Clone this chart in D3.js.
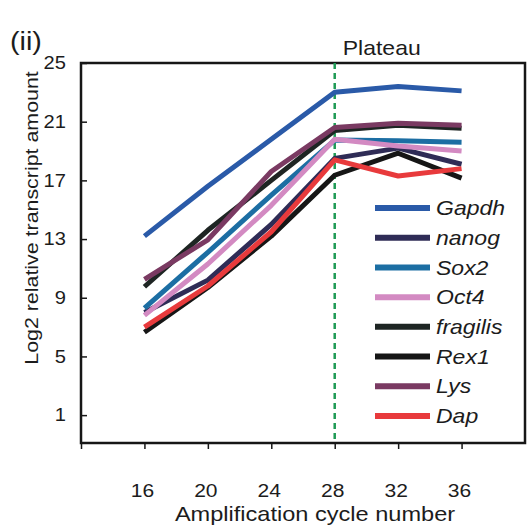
<!DOCTYPE html>
<html>
<head>
<meta charset="utf-8">
<script src="https://cdn.jsdelivr.net/npm/d3@7"></script>
<style>
  html, body { margin: 0; padding: 0; background: #ffffff; }
  svg { display: block; }
  text { font-family: Arial, "Liberation Sans", sans-serif; fill: #1c1c1c; }
</style>
</head>
<body>
<svg id="chart" width="527" height="527"></svg>
<script>
// ---- data ----
const cycles = [16, 20, 24, 28, 32, 36];
const genes = ["Gapdh", "nanog", "Sox2", "Oct4", "fragilis", "Rex1", "Lys", "Dap"];
const gapdh    = [13.2, 16.6, 19.8, 23.0, 23.4, 23.1];
const nanog    = [8.0, 10.2, 14.0, 18.5, 19.2, 18.1];
const sox2     = [8.3, 12.1, 16.0, 19.75, 19.7, 19.6];
const oct4     = [7.8, 11.3, 15.3, 19.8, 19.35, 19.0];
const fragilis = [9.75, 13.6, 17.0, 20.4, 20.75, 20.55];
const rex1     = [6.65, 9.7, 13.2, 17.35, 18.85, 17.15];
const lys      = [10.25, 12.95, 17.6, 20.6, 20.9, 20.75];
const dap      = [7.0, 9.8, 13.5, 18.4, 17.3, 17.8];
const yTicks = [1, 5, 9, 13, 17, 21, 25];
const xTicks = [16, 20, 24, 28, 32, 36];
const plateauCycle = 28;

const seriesValues = [gapdh, nanog, sox2, oct4, fragilis, rex1, lys, dap];
const colors = ["#2a5aa8", "#2f2c56", "#1c6ea3", "#d38ac2", "#1e2523", "#161616", "#7a3a62", "#e83a3c"];

// ---- layout ----
const svg = d3.select("#chart");
const L = 81, R = 525, T = 63, B = 443;
const SX = 1.15; // horizontal stretch of the lettering
const x = d3.scaleLinear().domain([12, 40]).range([L, R]);
const y = d3.scaleLinear().domain([-0.9, 25]).range([B, T]);

function label(g, tx, ty, txt, size, anchor, rot, italic) {
  const t = g.append("text")
    .attr("transform", `translate(${tx},${ty})` + (rot ? ` rotate(${rot})` : "") + ` scale(${SX},1)`)
    .attr("dy", "0.36em").attr("text-anchor", anchor || "start")
    .attr("font-size", size).text(txt);
  if (italic) t.attr("font-style", "italic");
  return t;
}

// frame
svg.append("rect").attr("x", L).attr("y", T).attr("width", R - L).attr("height", B - T)
  .attr("fill", "none").attr("stroke", "#161616").attr("stroke-width", 2.5);

// y axis ticks (inward)
const yAxis = d3.axisLeft(y).tickValues(yTicks).tickSizeInner(-6).tickSizeOuter(0).tickFormat("");
const gy = svg.append("g").attr("transform", `translate(${L},0)`).call(yAxis);
gy.select(".domain").remove();
gy.selectAll(".tick line").attr("stroke", "#161616").attr("stroke-width", 1.5);
const gyl = svg.append("g");
yTicks.forEach(d => label(gyl, 66, y(d), String(d), 17.5, "end"));

// x axis ticks (outward)
const xAxis = d3.axisBottom(x).tickValues([12].concat(xTicks)).tickSizeInner(6).tickSizeOuter(0).tickFormat("");
const gx = svg.append("g").attr("transform", `translate(0,${B})`).call(xAxis);
gx.select(".domain").remove();
gx.selectAll(".tick line").attr("stroke", "#161616").attr("stroke-width", 1.5);
const gxl = svg.append("g");
xTicks.forEach(d => label(gxl, x(d) - 2, 490, String(d), 18.3, "middle"));

// axis titles
label(svg, 315, 514, "Amplification cycle number", 20.5, "middle");
label(svg, 31, 218, "Log2 relative transcript amount", 18.6, "middle", -90);
label(svg, 10, 41, "(ii)", 25, "start");

// plateau line + label
svg.append("line").attr("x1", x(plateauCycle)).attr("x2", x(plateauCycle))
  .attr("y1", T).attr("y2", B).attr("stroke", "#1f9a55").attr("stroke-width", 2.5)
  .attr("stroke-dasharray", "6,4");
label(svg, x(plateauCycle) + 8, 48, "Plateau", 20, "start");

// lines
const line = d3.line().x((d, i) => x(cycles[i])).y(d => y(d));
svg.append("g").selectAll("path").data(seriesValues).join("path")
  .attr("d", d => line(d)).attr("fill", "none")
  .attr("stroke", (d, i) => colors[i]).attr("stroke-width", 5)
  .attr("stroke-linejoin", "round");

// legend
const lg = svg.append("g");
const legY = d3.scalePoint().domain(genes).range([208, 416]);
lg.selectAll("line").data(genes).join("line")
  .attr("x1", 375).attr("x2", 430).attr("y1", d => legY(d)).attr("y2", d => legY(d))
  .attr("stroke", (d, i) => colors[i]).attr("stroke-width", 6);
genes.forEach(g => label(lg, 436, legY(g), g, 20, "start", 0, true));
</script>
</body>
</html>
